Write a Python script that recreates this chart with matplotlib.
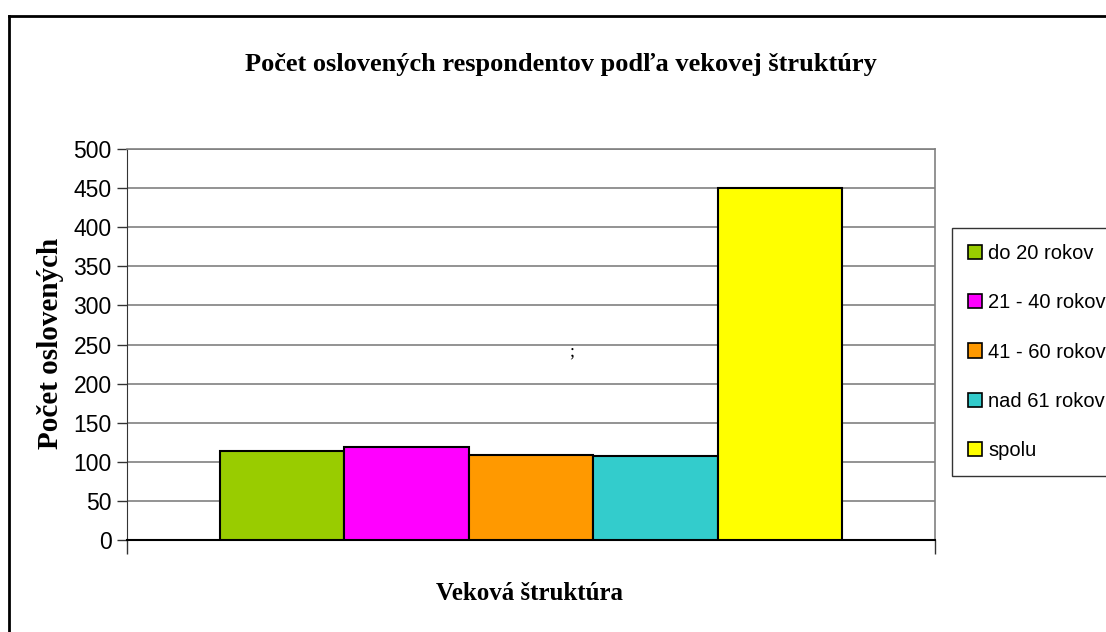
import matplotlib

matplotlib.use("Agg")
import matplotlib.pyplot as plt
from matplotlib.lines import Line2D
from matplotlib.patches import Patch

# data
categories = ["do 20 rokov", "21 - 40 rokov", "41 - 60 rokov", "nad 61 rokov", "spolu"]
values = [114, 119, 109, 108, 450]
colors = ["#99CC00", "#FF00FF", "#FF9900", "#33CCCC", "#FFFF00"]
y_ticks = list(range(0, 501, 50))

title = "Počet oslovených respondentov podľa vekovej štruktúry"
x_label = "Veková štruktúra"
y_label = "Počet oslovených"

W, H = 1106, 632
sans = ["Liberation Sans", "DejaVu Sans"]
serif = ["Liberation Serif", "DejaVu Serif"]

fig = plt.figure(figsize=(W / 100, H / 100), dpi=100)
fig.patch.set_facecolor("white")
ax = fig.add_axes([127 / W, 1 - 540 / H, (935 - 127) / W, (540 - 149) / H])

bar_w = 0.154
n = len(values)
for i, (v, c) in enumerate(zip(values, colors)):
    x = (i - (n - 1) / 2) * bar_w
    ax.bar(x, v, width=bar_w, color=c, edgecolor="black", linewidth=1.5, zorder=3)

ax.set_xlim(-0.5, 0.5)
ax.set_ylim(0, 500)
ax.set_yticks(y_ticks)
ax.set_yticklabels([str(t) for t in y_ticks], fontsize=16.5, family=sans)
ax.set_xticks([-0.5, 0.5])
ax.set_xticklabels(["", ""])
ax.tick_params(axis="y", length=7, width=1, color="#333333", pad=4)
ax.tick_params(axis="x", length=10, width=1, color="#333333")
ax.yaxis.grid(True, color="#808080", linewidth=1.2, zorder=0)
ax.set_axisbelow(True)
for side in ("top", "right"):
    ax.spines[side].set_color("#808080")
    ax.spines[side].set_linewidth(1.2)
ax.spines["left"].set_color("#333333")
ax.spines["bottom"].set_color("black")
ax.spines["bottom"].set_linewidth(1.5)

fig.text(561 / W, 1 - 65 / H, title, ha="center", va="center",
         fontsize=19, fontweight="bold", family=serif)
fig.text(530 / W, 1 - 593 / H, x_label, ha="center", va="center",
         fontsize=18, fontweight="bold", family=serif)
fig.text(51 / W, 1 - 343 / H, y_label, ha="center", va="center", rotation=90,
         fontsize=21, fontweight="bold", family=serif)
fig.text(572 / W, 1 - 352 / H, ";", ha="center", va="center", fontsize=13, family=serif)

handles = [Patch(facecolor=c, edgecolor="black", linewidth=1.2) for c in colors]
leg = fig.legend(handles, categories, loc="upper left",
                 bbox_to_anchor=(952 / W, 1 - 228 / H), prop={"family": sans, "size": 14.5},
                 handlelength=0.7, handleheight=0.7, handletextpad=0.3,
                 labelspacing=1.5, borderpad=0.8, borderaxespad=0,
                 fancybox=False, frameon=True)
leg.get_frame().set_edgecolor("black")
leg.get_frame().set_linewidth(1.0)

# outer chart frame (clipped at right and bottom in the reference)
fig.add_artist(Line2D([9 / W, 9 / W], [1 - 16 / H, 0], color="black", linewidth=2))
fig.add_artist(Line2D([9 / W, 1], [1 - 16 / H, 1 - 16 / H], color="black", linewidth=2))

fig.savefig("out.png", dpi=100)
